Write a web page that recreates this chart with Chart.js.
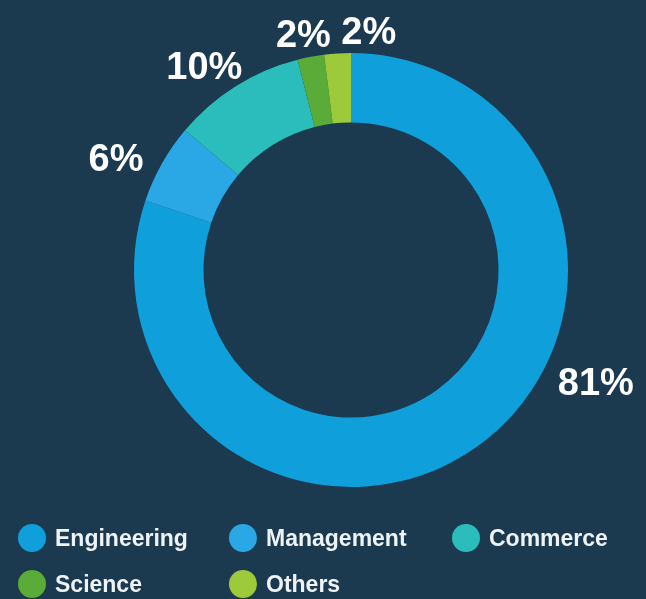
<!DOCTYPE html>
<html>
<head>
<meta charset="utf-8">
<script src="https://cdn.jsdelivr.net/npm/chart.js@4"></script>
<style>
  html, body { margin: 0; padding: 0; background: #1b3a4f; }
  #wrap { position: relative; width: 646px; height: 599px; overflow: hidden; }
  #c { position: absolute; left: 0; top: 0; }
  #legend { position: absolute; left: 0; top: 0; width: 646px; height: 599px; pointer-events: none;
            font-family: "Liberation Sans", Arial, sans-serif; font-weight: bold; font-size: 23px; color: #eef3f6; }
  .item { position: absolute; display: flex; align-items: center; white-space: nowrap; }
  .dot { width: 28px; height: 28px; border-radius: 50%; margin-right: 9px; }
</style>
</head>
<body>
<div id="wrap">
  <canvas id="c" width="646" height="599"></canvas>
  <div id="legend"></div>
</div>
<script>
const categories = ["Engineering", "Management", "Commerce", "Science", "Others"];
const shares = [81, 6, 10, 2, 2];
const percentLabels = ["81%", "6%", "10%", "2%", "2%"];

// styling
const sliceColors = ["#0fa0dc", "#2aa8e6", "#2bbcbc", "#5aab38", "#9cca3a"];
const labelAngleDeg = [115, 295, 324, 348.5, 4.3];   // clockwise from top
const labelRadiusFactor = [1.245, 1.195, 1.15, 1.10, 1.095];
const legendSlots = [[18, 538], [229, 538], [452, 538], [18, 584], [229, 584]];

const labelPlugin = {
  id: 'outerLabels',
  afterDatasetsDraw(chart) {
    const ctx = chart.ctx;
    const meta = chart.getDatasetMeta(0);
    ctx.save();
    ctx.font = 'bold 38px "Liberation Sans", Arial, sans-serif';
    ctx.fillStyle = '#ffffff';
    ctx.textAlign = 'center';
    ctx.textBaseline = 'middle';
    meta.data.forEach((arc, i) => {
      const a = labelAngleDeg[i] * Math.PI / 180;
      const r = arc.outerRadius * labelRadiusFactor[i];
      const x = arc.x + r * Math.sin(a);
      const y = arc.y - r * Math.cos(a);
      ctx.fillText(percentLabels[i], x, y);
    });
    ctx.restore();
  }
};

new Chart(document.getElementById('c'), {
  type: 'doughnut',
  data: {
    labels: categories,
    datasets: [{
      data: shares,
      backgroundColor: sliceColors,
      borderWidth: 0
    }]
  },
  options: {
    responsive: false,
    animation: false,
    cutout: '68%',
    layout: { padding: { top: 53, bottom: 112, left: 134, right: 78 } },
    plugins: {
      legend: { display: false },
      tooltip: { enabled: false }
    }
  },
  plugins: [labelPlugin]
});

const legend = document.getElementById('legend');
categories.forEach((name, i) => {
  const item = document.createElement('div');
  item.className = 'item';
  item.style.left = legendSlots[i][0] + 'px';
  item.style.top = (legendSlots[i][1] - 15) + 'px';
  item.style.height = '30px';
  const dot = document.createElement('span');
  dot.className = 'dot';
  dot.style.background = sliceColors[i];
  const txt = document.createElement('span');
  txt.textContent = name;
  item.appendChild(dot);
  item.appendChild(txt);
  legend.appendChild(item);
});
</script>
</body>
</html>
